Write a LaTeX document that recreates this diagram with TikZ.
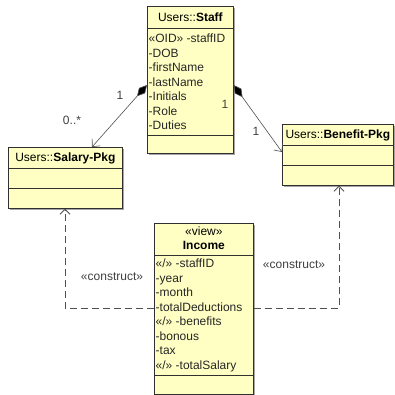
\documentclass[tikz,border=0pt]{standalone}
\usepackage{fontspec}
\setmainfont{Liberation Sans}
\usetikzlibrary{arrows.meta,calc,shadows}
\definecolor{umlfill}{HTML}{FFFFC4}
\definecolor{umlline}{HTML}{303030}
\definecolor{conn}{HTML}{505050}
\begin{document}
\begin{tikzpicture}[x=1pt,y=-1pt,
  font=\fontsize{12}{14}\selectfont,
  umlbox/.style={draw=umlline, fill=umlfill, line width=0.7pt, inner sep=0pt, anchor=north west,
    drop shadow={shadow xshift=1.2pt,shadow yshift=-1.2pt,fill=black!35,opacity=1}},
  attr/.style={anchor=base west, inner sep=0pt, text=black!85},
  lbl/.style={inner sep=0pt, text=black!75},
  sep/.style={draw=umlline, line width=0.7pt},
  comp/.style={draw=conn, line width=0.6pt, {Diamond[fill=black,length=15pt,width=8pt]}-{Straight Barb[length=6pt,width=11pt]}},
  constr/.style={draw=conn, line width=0.8pt, dash pattern=on 7pt off 4pt, -{Straight Barb[length=5pt,width=10pt]}},
]
\useasboundingbox[fill=white] (0,0) rectangle (395,394);

% Staff
\node[umlbox, minimum width=86pt, minimum height=147pt] (staff) at (147,6) {};
\draw[sep] ($(staff.north west)+(0,22)$) -- ($(staff.north east)+(0,22)$);
\draw[sep] ($(staff.north west)+(0,129)$) -- ($(staff.north east)+(0,129)$);
\node[lbl, text=black] (staffh) at ($(staff.north)+(0,11)$) {Users::\textbf{Staff}};
\foreach [count=\i] \t/\yy in {{«OID» -staffID}/36.5, {-DOB}/51, {-firstName}/65.5, {-lastName}/80, {-Initials}/94.5, {-Role}/109, {-Duties}/123.5}
  \node[attr] (s\i) at ($(staff.north west)+(1.5,\yy)$) {\t};

% Salary-Pkg
\node[umlbox, minimum width=114pt, minimum height=61pt] (salary) at (8,147) {};
\draw[sep] ($(salary.north west)+(0,21)$) -- ($(salary.north east)+(0,21)$);
\draw[sep] ($(salary.north west)+(0,41)$) -- ($(salary.north east)+(0,41)$);
\node[lbl, text=black] (salaryh) at ($(salary.north)+(0,11)$) {Users::\textbf{Salary-Pkg}};

% Benefit-Pkg
\node[umlbox, minimum width=111pt, minimum height=61pt] (benefit) at (282,124) {};
\draw[sep] ($(benefit.north west)+(0,21)$) -- ($(benefit.north east)+(0,21)$);
\draw[sep] ($(benefit.north west)+(0,41)$) -- ($(benefit.north east)+(0,41)$);
\node[lbl, text=black] (benefith) at ($(benefit.north)+(0,11)$) {Users::\textbf{Benefit-Pkg}};

% Income
\node[umlbox, minimum width=99pt, minimum height=170.5pt] (income) at (154,223) {};
\draw[sep] ($(income.north west)+(0,32)$) -- ($(income.north east)+(0,32)$);
\draw[sep] ($(income.north west)+(0,152)$) -- ($(income.north east)+(0,152)$);
\node[lbl, text=black] (incst) at ($(income.north)+(0,8)$) {«view»};
\node[lbl, text=black] (inch) at ($(income.north)+(0,22)$) {\textbf{Income}};
\foreach [count=\i] \t/\yy in {{«/» -staffID}/44.5, {-year}/59, {-month}/73.5, {-totalDeductions}/88, {«/» -benefits}/102.5, {-bonous}/117, {-tax}/131.5, {«/» -totalSalary}/146}
  \node[attr] (i\i) at ($(income.north west)+(1.5,\yy)$) {\t};

% composition connectors
\draw[comp] ($(staff.north west)+(0,79)$) -- ($(salary.north west)+(84,0)$);
\draw[comp] ($(staff.north east)+(0,79)$) -- ($(benefit.north west)+(0,28)$);
\node[lbl] (m1) at (120,95) {1};
\node[lbl] (m2) at (72,120) {0..*};
\node[lbl] (m3) at (225,104) {1};
\node[lbl] (m4) at (256,131) {1};

% construct dependencies
\draw[constr] ($(income.north west)+(0,85)$) -| ($(salary.south west)+(57,0)$);
\draw[constr] ($(income.north east)+(0,85)$) -| ($(benefit.south west)+(57,0)$);
\node[lbl] (c1) at (112,277) {«construct»};
\node[lbl] (c2) at (294,265) {«construct»};
\end{tikzpicture}
\end{document}
